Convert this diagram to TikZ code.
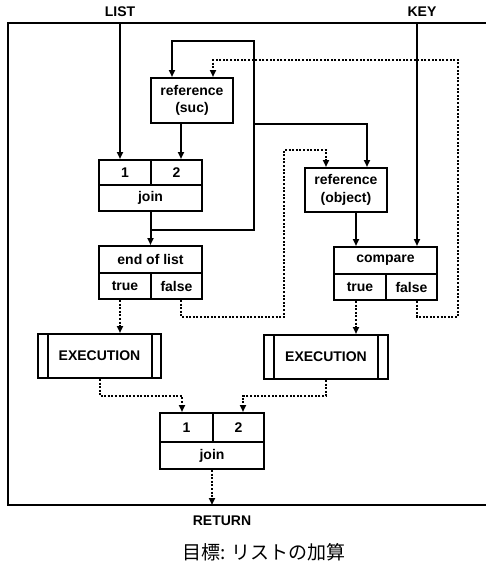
\documentclass[tikz,border=0pt]{standalone}
\usepackage{fontspec}
\setmainfont{Liberation Sans}
\newfontfamily\cjk{Noto Sans CJK JP}
\usetikzlibrary{arrows.meta}

\begin{document}
\begin{tikzpicture}[
    x=0.5pt, y=-0.5pt,
    cell/.style={
        draw,
        line width=1pt,
        inner sep=0pt,
        align=center,
        font=\fontsize{7}{8.7}\selectfont\bfseries
    },
    tag/.style={inner sep=0pt, font=\fontsize{7}{8}\selectfont\bfseries},
    line/.style={draw, line width=1pt},
    arr/.style={line, -{Triangle[length=3.5pt,width=3pt]}},
    dotarr/.style={arr, dash pattern=on 1pt off 0.8pt}
]
\useasboundingbox (0,0) rectangle (486,563);

% Frame
\draw[line] (486,23) -- (8,23) -- (8,505) -- (486,505);

% Inputs
\node[tag] (list) at (120,12) {LIST};
\node[tag] (key) at (422,12) {KEY};
\coordinate (listin) at (120,23);
\coordinate (keyin) at (417,23);

% Upper blocks
\node[cell, minimum width=41pt, minimum height=22.5pt] (refsuc) at (192,100.5) {reference\\(suc)};

\node[cell, minimum width=26pt, minimum height=12.5pt] (j1a) at (125,172.5) {1};
\node[cell, minimum width=25.5pt, minimum height=12.5pt] (j1b) at (176.5,172.5) {2};
\node[cell, minimum width=51.5pt, minimum height=13pt] (join1) at (150.5,198) {join};

\node[cell, minimum width=51.5pt, minimum height=13.5pt] (eol) at (150.5,259.5) {end of list};
\node[cell, minimum width=26pt, minimum height=13pt] (eolt) at (125,286) {true};
\node[cell, minimum width=25.5pt, minimum height=13pt] (eolf) at (176.5,286) {false};

\node[cell, minimum width=41pt, minimum height=22pt] (refobj) at (346,190) {reference\\(object)};

\node[cell, minimum width=51.5pt, minimum height=13.5pt] (cmp) at (385.5,260.5) {compare};
\node[cell, minimum width=26pt, minimum height=13pt] (cmpt) at (360,287) {true};
\node[cell, minimum width=25.5pt, minimum height=13pt] (cmpf) at (411.5,287) {false};

% Execution blocks
\node[cell, minimum width=61.5pt, minimum height=22pt] (exec1) at (99.5,356) {EXECUTION};
\draw[line] ([xshift=5.5pt]exec1.north west) -- ([xshift=5.5pt]exec1.south west);
\draw[line] ([xshift=-5pt]exec1.north east) -- ([xshift=-5pt]exec1.south east);

\node[cell, minimum width=62pt, minimum height=22pt] (exec2) at (326,357) {EXECUTION};
\draw[line] ([xshift=5.5pt]exec2.north west) -- ([xshift=5.5pt]exec2.south west);
\draw[line] ([xshift=-5.5pt]exec2.north east) -- ([xshift=-5.5pt]exec2.south east);

% Final join
\node[cell, minimum width=26.5pt, minimum height=14.5pt] (j2a) at (186.5,427.5) {1};
\node[cell, minimum width=25.5pt, minimum height=14.5pt] (j2b) at (238.5,427.5) {2};
\node[cell, minimum width=52pt, minimum height=13.5pt] (join2) at (212,455.5) {join};
\coordinate (retout) at (212,505);

\node[tag] (ret) at (222,521) {RETURN};
\node[inner sep=0pt, font=\cjk\fontsize{9.5}{11}\selectfont] (title) at (264,552) {目標: リストの加算};

% Data flow
\draw[arr] (listin) -- (listin |- j1a.north);
\draw[arr] ([xshift=-5.5pt]refsuc.south) -- ([xshift=-5.5pt]refsuc.south |- j1b.north);
\draw[arr] (join1.south) -- (eol.north);
\draw[arr] (join1.south |- 0,230) -| (254,41) -| ([xshift=-10pt]refsuc.north);
\draw[arr] (254,124) -| ([xshift=10.5pt]refobj.north);
\draw[arr] ([xshift=5pt]refobj.south) -- ([xshift=5pt]refobj.south |- cmp.north);
\draw[arr] (keyin) -- (keyin |- cmp.north);

% Control flow
\draw[dotarr] ([xshift=2.25pt]eolf.south) |- (284,317) -- (284,150) -| ([xshift=-10pt]refobj.north);
\draw[dotarr] ([xshift=2.75pt]cmpf.south) |- (458,317) -- (458,60) -| ([xshift=10.5pt]refsuc.north);
\draw[dotarr] ([xshift=-2.5pt]eolt.south) -- ([xshift=-2.5pt]eolt.south |- exec1.north);
\draw[dotarr] ([xshift=-2pt]cmpt.south) -- ([xshift=-2pt]cmpt.south |- exec2.north);
\draw[dotarr] (exec1.south) |- (182,396) -- ([xshift=-2.25pt]j2a.north);
\draw[dotarr] (exec2.south) |- (243,396) -- ([xshift=2.25pt]j2b.north);
\draw[dotarr] (join2.south) -- (retout);

\end{tikzpicture}
\end{document}
